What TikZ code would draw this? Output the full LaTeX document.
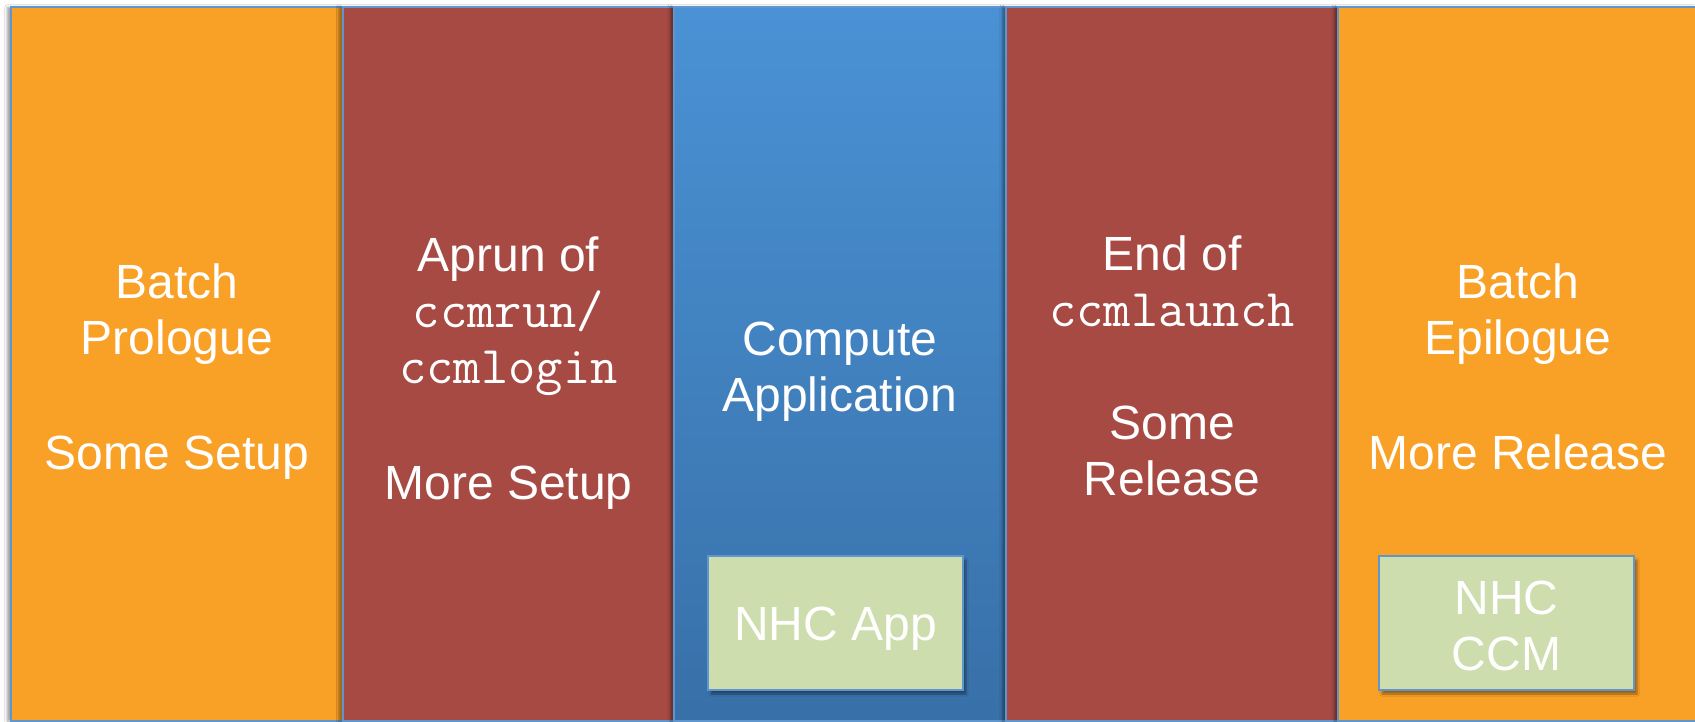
\documentclass[tikz,border=0pt]{standalone}
\usepackage{fontspec}
\setmainfont{Liberation Sans}
\usetikzlibrary{shadows.blur}
\definecolor{orng}{RGB}{249,160,39}
\definecolor{rd}{RGB}{167,74,68}
\definecolor{bltop}{RGB}{74,146,213}
\definecolor{blbot}{RGB}{56,112,168}
\definecolor{edge}{RGB}{96,150,206}
\definecolor{grn}{RGB}{206,221,173}
\newcommand\cmdtxt[1]{{\fontsize{53}{56}\selectfont\ttfamily #1}}
\begin{document}
\begin{tikzpicture}[x=1pt,y=-1pt,
  col/.style={draw=edge, line width=2pt, minimum width=332pt, minimum height=714pt,
    inner sep=0pt,
    blur shadow={shadow xshift=-4pt, shadow yshift=0pt, shadow blur steps=6, shadow opacity=35}},
  coltext/.style={text=white, align=center, font=\fontsize{48}{56}\selectfont, inner sep=0pt,
    execute at begin node={\rule{0pt}{35pt}},
    execute at end node={\rule[-11pt]{0pt}{11pt}}},
  nhc/.style={draw=edge, line width=1.5pt, fill=grn, minimum width=255pt, minimum height=134pt,
    inner sep=0pt, text=white, align=center, font=\fontsize{48}{56}\selectfont,
    execute at begin node={\rule{0pt}{45pt}},
    execute at end node={\rule[-7pt]{0pt}{7pt}},
    blur shadow={shadow xshift=3pt, shadow yshift=-4pt, shadow blur steps=6, shadow opacity=40}}]
\useasboundingbox (0,0) rectangle (1695,722);
\fill[white] (0,0) rectangle (1695,722);
\clip (0,0) rectangle (1695,722);
% columns
\node[col, fill=orng] (c1) at (177,364) {};
\node[col, fill=rd] (c2) at (508.5,364) {};
\node[col, top color=bltop, bottom color=blbot] (c3) at (840,364) {};
\node[col, fill=rd] (c4) at (1172,364) {};
\node[col, fill=orng, minimum width=360pt] (c5) at (1518,364) {};
% column texts
\node[coltext] (t1) at (177,372.5) {Batch\\Prologue\\[59pt]Some Setup};
\node[coltext] (t2) at (508.5,374) {Aprun of\\\cmdtxt{ccmrun/}\\\cmdtxt{ccmlogin}\\[60pt]More Setup};
\node[coltext] (t3) at (840,372) {Compute\\Application};
\node[coltext] (t4) at (1172,371.5) {End of\\\cmdtxt{ccmlaunch}\\[57pt]Some\\Release};
\node[coltext] (t5) at (1518,372.5) {Batch\\Epilogue\\[59pt]More Release};
% NHC boxes
\node[nhc] (app) at (835.5,623) {NHC App};
\node[nhc] (ccm) at (1506.5,623) {\rule{0pt}{46pt}NHC\\CCM};
\end{tikzpicture}
\end{document}
